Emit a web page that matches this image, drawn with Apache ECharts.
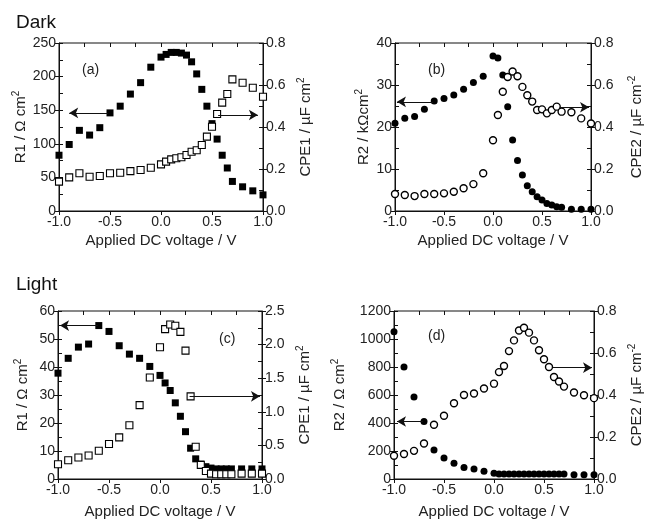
<!DOCTYPE html>
<html><head><meta charset="utf-8">
<script src="https://cdn.jsdelivr.net/npm/echarts@6/dist/echarts.min.js"></script>
<style>html,body{margin:0;padding:0;background:#fff}#c{width:645px;height:520px}</style>
</head><body><div id="c"></div>
<script>
// Applied DC voltage (V)
const voltage = [-1.0,-0.9,-0.8,-0.7,-0.6,-0.5,-0.4,-0.3,-0.2,-0.1,0.0,0.05,0.1,0.15,0.2,0.25,0.3,0.35,0.4,0.45,0.5,0.55,0.6,0.65,0.7,0.8,0.9,1.0];
// (a) Dark: R1 (Ohm cm2) and CPE1 (uF cm-2)
const darkR1   = [83,99,120,113,124,146,156,174,191,214,229,233,236,236,235,232,222,204,181,156,130,107,83,64,44,36,30,24];
const darkCPE1 = [0.140,0.160,0.180,0.163,0.167,0.180,0.182,0.190,0.195,0.206,0.222,0.235,0.246,0.251,0.256,0.267,0.282,0.289,0.314,0.354,0.401,0.462,0.516,0.557,0.627,0.611,0.587,0.544];
// (b) Dark: R2 (kOhm cm2) and CPE2 (uF cm-2)
const darkR2   = [20.9,22.1,22.5,24.2,26.2,26.8,27.6,29.0,30.6,32.1,36.9,36.4,32.4,24.8,16.9,12.0,8.6,6.0,4.6,3.4,2.6,1.8,1.4,1.0,0.9,0.4,0.4,0.4];
const darkCPE2 = [0.081,0.076,0.071,0.081,0.081,0.084,0.092,0.108,0.128,0.180,0.337,0.457,0.568,0.638,0.664,0.642,0.591,0.551,0.521,0.481,0.484,0.465,0.481,0.497,0.473,0.470,0.441,0.417];
// (c) Light: R1 (Ohm cm2) and CPE1 (uF cm-2)
const lightR1   = [37.8,43.1,47.1,48.2,54.8,52.7,47.6,44.6,43.1,40.2,37.0,34.3,31.6,27.2,22.4,16.9,11.0,7.2,5.3,4.4,3.9,3.6,3.6,3.6,3.6,3.6,3.6,3.6];
const lightCPE1 = [0.22,0.28,0.32,0.35,0.42,0.52,0.62,0.80,1.10,1.51,1.96,2.23,2.30,2.28,2.19,1.91,1.23,0.48,0.21,0.12,0.08,0.07,0.07,0.07,0.07,0.08,0.08,0.08];
// (d) Light: R2 (Ohm cm2) and CPE2 (uF cm-2)
const lightR2   = [1052,800,586,411,207,150,112,83,71,55,41,36,36,36,36,36,36,36,36,36,36,36,36,36,36,31,31,31];
const lightCPE2 = [0.111,0.119,0.134,0.169,0.258,0.301,0.361,0.400,0.407,0.431,0.454,0.509,0.538,0.609,0.660,0.707,0.720,0.697,0.660,0.613,0.570,0.533,0.486,0.464,0.440,0.412,0.399,0.385];

const panelLabels = ['(a)','(b)','(c)','(d)'];
const xTitle = 'Applied DC voltage / V';
const leftTitles  = ['R1 / Ω cm{sup|2}','R2 / kΩcm{sup|2}','R1 / Ω cm{sup|2}','R2 / Ω cm{sup|2}'];
const rightTitles = ['CPE1 / µF cm{sup|2}','CPE2 / µF cm{sup|-2}','CPE1 / µF cm{sup|2}','CPE2 / µF cm{sup|-2}'];
const leftRange  = [[0,250,50],[0,40,10],[0,60,10],[0,1200,200]];
const rightRange = [[0,0.8,0.2],[0,0.8,0.2],[0,2.5,0.5],[0,0.8,0.2]];
// arrows: [x1,y1,x2,y2] in data units (left axis / right axis)
const arrowsLeft  = [[-0.52,146,-0.90,146],[-0.61,26.0,-0.98,26.0],[-0.61,54.8,-0.98,54.8],[-0.71,411,-0.97,411]];
const arrowsRight = [[0.56,0.457,0.95,0.457],[0.68,0.494,0.98,0.494],[0.29,1.23,0.98,1.23],[0.59,0.530,0.98,0.530]];

const FONT = 'Liberation Sans, Arial, sans-serif';
const INK = '#111';
const grids = [
  {left:59, top:43, width:204, height:168},
  {left:395, top:43, width:204, height:168},
  {left:58, top:311, width:204, height:169},
  {left:394, top:311, width:205, height:169}
];
const leftGap = [27,22,26,45];
const rightGap = [33,36,33,33];
const xGap = [22,22,25,25];

const xAxes = [], yAxes = [], series = [];
const sup = {sup:{fontSize:10, padding:[0,0,9,0], fontFamily:FONT, color:'#222'}};
grids.forEach((g, gi) => {
  xAxes.push({type:'value', gridIndex:gi, min:-1, max:1, interval:0.5,
    axisLine:{onZero:false, lineStyle:{color:INK}}, axisTick:{inside:false, length:4, lineStyle:{color:INK}},
    axisLabel:{formatter:v=>v.toFixed(1), fontSize:14, color:'#222', fontFamily:FONT, margin:4},
    splitLine:{show:false}, name:xTitle, nameLocation:'middle', nameGap:xGap[gi],
    nameTextStyle:{fontSize:15, color:'#222', fontFamily:FONT}});
  xAxes.push({type:'value', gridIndex:gi, min:-1, max:1, interval:0.25,
    axisLine:{show:false, onZero:false}, axisTick:{inside:true, length:4, lineStyle:{color:INK}},
    axisLabel:{show:false}, splitLine:{show:false}});
  const L = leftRange[gi], R = rightRange[gi];
  yAxes.push({type:'value', gridIndex:gi, position:'left', min:L[0], max:L[1], interval:L[2],
    axisLine:{show:true, onZero:false, lineStyle:{color:INK}}, axisTick:{show:true, inside:false, length:4, lineStyle:{color:INK}},
    axisLabel:{formatter:v=>String(v), fontSize:14, color:'#222', fontFamily:FONT, margin:3},
    splitLine:{show:false}, name:leftTitles[gi], nameLocation:'middle', nameRotate:90, nameGap:leftGap[gi],
    nameTextStyle:{fontSize:15, color:'#222', fontFamily:FONT, rich:sup}});
  yAxes.push({type:'value', gridIndex:gi, position:'left', min:L[0], max:L[1], interval:L[2]/2,
    axisLine:{show:false, onZero:false}, axisTick:{show:true, inside:true, length:4, lineStyle:{color:INK}},
    axisLabel:{show:false}, splitLine:{show:false}});
  yAxes.push({type:'value', gridIndex:gi, position:'right', min:R[0], max:R[1], interval:R[2],
    axisLine:{show:true, onZero:false, lineStyle:{color:INK}}, axisTick:{show:true, inside:false, length:4, lineStyle:{color:INK}},
    axisLabel:{formatter:v=>v.toFixed(1), fontSize:14, color:'#222', fontFamily:FONT, margin:3},
    splitLine:{show:false}, name:rightTitles[gi], nameLocation:'middle', nameRotate:90, nameGap:rightGap[gi],
    nameTextStyle:{fontSize:15, color:'#222', fontFamily:FONT, rich:sup}});
  yAxes.push({type:'value', gridIndex:gi, position:'right', min:R[0], max:R[1], interval:R[2]/2,
    axisLine:{show:false, onZero:false}, axisTick:{show:true, inside:true, length:4, lineStyle:{color:INK}},
    axisLabel:{show:false}, splitLine:{show:false}});
});

const leftData  = [darkR1, darkR2, lightR1, lightR2];
const rightData = [darkCPE1, darkCPE2, lightCPE1, lightCPE2];
const shapes = ['rect','circle','rect','circle'];
function arrowLine(a){
  return {silent:true, symbol:['none','arrow'], symbolSize:[8,9], animation:false,
    lineStyle:{color:INK, width:1, type:'solid'}, label:{show:false},
    data:[[{coord:[a[0],a[1]]},{coord:[a[2],a[3]]}]]};
}
grids.forEach((g, gi) => {
  series.push({type:'scatter', xAxisIndex:2*gi, yAxisIndex:4*gi, symbol:shapes[gi], symbolSize:7,
    itemStyle:{color:'#000', opacity:1}, data:voltage.map((v,i)=>[v, leftData[gi][i]]), markLine:arrowLine(arrowsLeft[gi]), z:2});
  series.push({type:'scatter', xAxisIndex:2*gi, yAxisIndex:4*gi+2, symbol:shapes[gi], symbolSize:7,
    itemStyle:{color:'#fff', borderColor:'#000', borderWidth:(shapes[gi]==='circle'?1.4:1.1), opacity:1}, data:voltage.map((v,i)=>[v, rightData[gi][i]]), markLine:arrowLine(arrowsRight[gi]), z:3});
});

const labelPos = [[82,63],[428,63],[219,332],[428,329]];
const graphics = [
  {type:'text', left:16, top:13, style:{text:'Dark', fontSize:19, fontFamily:FONT, fill:'#111'}},
  {type:'text', left:16, top:275, style:{text:'Light', fontSize:19, fontFamily:FONT, fill:'#111'}}
];
panelLabels.forEach((t,i)=>graphics.push({type:'text', left:labelPos[i][0], top:labelPos[i][1], style:{text:t, fontSize:14, fontFamily:FONT, fill:'#222'}}));

const chart = echarts.init(document.getElementById('c'), null, {renderer:'canvas'});
chart.setOption({
  animation:false,
  grid: grids.map(g=>Object.assign({show:true, borderColor:INK, borderWidth:1, backgroundColor:'transparent'}, g)),
  xAxis: xAxes, yAxis: yAxes, series: series, graphic: graphics
});
</script></body></html>
